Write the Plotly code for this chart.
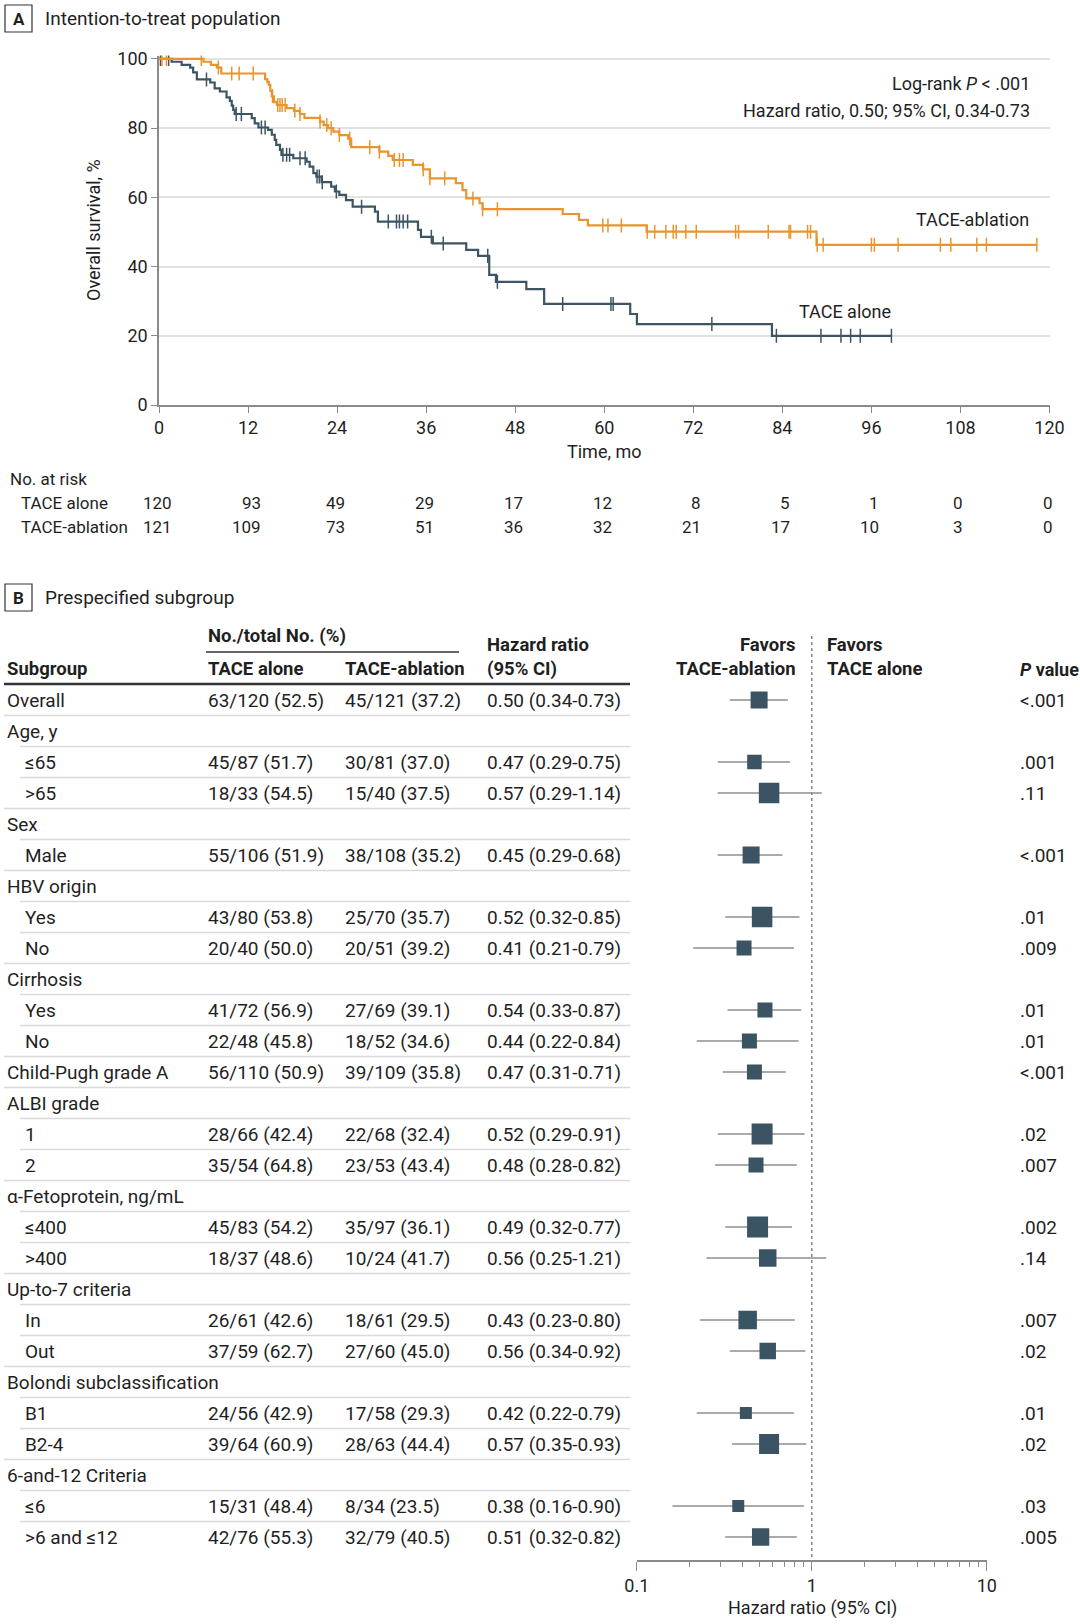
import numpy as np
import plotly.graph_objects as go

# ---- Panel A: Kaplan-Meier data (months, overall survival %) ----
alone_time = [0, 1.7, 3.05, 4.2, 4.6, 5.1, 6.9, 7.5, 8.2, 9.1, 9.55, 9.8, 10.0, 10.2,
              12.5, 12.9, 13.4, 14.7, 15.2, 15.6, 15.8, 16.3, 16.5, 18.1, 19.9, 20.3,
              20.8, 21.2, 21.9, 23.2, 23.7, 24.3, 25.2, 26.1, 29.1, 29.5, 34.9, 35.3,
              36.9, 41.4, 43.0, 44.5, 45.4, 49.5, 51.9, 63.5, 64.4, 82.6]
alone_surv = [100, 99.2, 98.3, 97.5, 96.1, 94.1, 93.2, 91.5, 90.6, 88.9, 87.9, 86.5, 85.3, 84.1,
              82.9, 81.4, 80.2, 79.5, 78.1, 76.6, 75.2, 73.7, 72.3, 71.3, 70.3, 68.9,
              67.0, 66.0, 64.4, 63.1, 61.7, 60.7, 59.2, 57.3, 55.9, 53.0, 50.6, 48.6,
              46.7, 44.8, 43.1, 37.6, 35.6, 33.5, 29.2, 26.3, 23.4, 20.0]
alone_end = 98.7
alone_censor = [0.2, 1.3, 6.4, 10.4, 11.1, 13.8, 14.3, 16.7, 17.2, 17.6, 19.0, 19.7, 21.3,
                21.6, 22.0, 23.9, 27.3, 30.9, 32.0, 32.4, 32.9, 33.5, 36.7, 38.3, 44.3,
                45.6, 54.4, 60.9, 61.2, 74.5, 83.2, 89.2, 91.9, 93.2, 94.5, 98.7]

ablation_time = [0, 6.0, 7.0, 7.8, 8.4, 14.3, 14.6, 14.8, 15.0, 15.2, 15.5, 15.9, 17.2,
                 18.2, 19.0, 19.6, 21.7, 22.2, 22.8, 23.5, 24.3, 25.5, 25.9, 29.7, 30.9,
                 31.5, 34.2, 35.6, 36.5, 40.0, 40.9, 41.4, 43.2, 43.6, 54.4, 56.6, 57.8,
                 65.7, 88.6]
ablation_surv = [100, 99.2, 98.3, 97.5, 95.8, 94.2, 93.3, 92.5, 90.8, 89.2, 87.5, 86.7, 85.8,
                 85.0, 84.1, 83.0, 81.9, 80.9, 80.0, 79.0, 78.0, 77.0, 74.5, 73.2, 72.0,
                 70.8, 69.4, 68.1, 65.5, 64.1, 62.1, 59.7, 58.3, 56.6, 55.2, 53.5, 51.9,
                 50.1, 46.3]
ablation_end = 118.3
ablation_censor = [0.4, 1.0, 5.7, 8.0, 9.8, 10.8, 12.7, 15.3, 16.0, 16.3, 16.6, 17.0, 18.3,
                   19.0, 21.7, 22.6, 23.2, 24.3, 25.7, 28.4, 29.7, 31.7, 32.4, 32.9, 35.6,
                   36.5, 38.5, 42.3, 43.6, 45.6, 59.8, 60.5, 62.3, 65.8, 66.8, 68.3, 69.3,
                   69.7, 71.0, 72.4, 77.7, 78.1, 82.1, 84.9, 85.1, 87.4, 87.8, 88.7, 89.5,
                   96.0, 96.4, 99.6, 105.3, 106.7, 110.2, 111.5, 118.3]

risk_times = [0, 12, 24, 36, 48, 60, 72, 84, 96, 108, 120]
risk_alone = [120, 93, 49, 29, 17, 12, 8, 5, 1, 0, 0]
risk_ablation = [121, 109, 73, 51, 36, 32, 21, 17, 10, 3, 0]

# ---- Panel B: subgroup forest plot ----
labels = ["Overall", "Age, y", "≤65", ">65", "Sex", "Male", "HBV origin", "Yes", "No",
          "Cirrhosis", "Yes", "No", "Child-Pugh grade A", "ALBI grade", "1", "2",
          "α-Fetoprotein, ng/mL", "≤400", ">400", "Up-to-7 criteria", "In", "Out",
          "Bolondi subclassification", "B1", "B2-4", "6-and-12 Criteria", "≤6", ">6 and ≤12"]
level = [0, 0, 1, 1, 0, 1, 0, 1, 1, 0, 1, 1, 0, 0, 1, 1, 0, 1, 1, 0, 1, 1, 0, 1, 1, 0, 1, 1]
n_alone = ["63/120 (52.5)", "", "45/87 (51.7)", "18/33 (54.5)", "", "55/106 (51.9)", "",
           "43/80 (53.8)", "20/40 (50.0)", "", "41/72 (56.9)", "22/48 (45.8)", "56/110 (50.9)",
           "", "28/66 (42.4)", "35/54 (64.8)", "", "45/83 (54.2)", "18/37 (48.6)", "",
           "26/61 (42.6)", "37/59 (62.7)", "", "24/56 (42.9)", "39/64 (60.9)", "",
           "15/31 (48.4)", "42/76 (55.3)"]
n_ablation = ["45/121 (37.2)", "", "30/81 (37.0)", "15/40 (37.5)", "", "38/108 (35.2)", "",
              "25/70 (35.7)", "20/51 (39.2)", "", "27/69 (39.1)", "18/52 (34.6)", "39/109 (35.8)",
              "", "22/68 (32.4)", "23/53 (43.4)", "", "35/97 (36.1)", "10/24 (41.7)", "",
              "18/61 (29.5)", "27/60 (45.0)", "", "17/58 (29.3)", "28/63 (44.4)", "",
              "8/34 (23.5)", "32/79 (40.5)"]
hr = [0.50, None, 0.47, 0.57, None, 0.45, None, 0.52, 0.41, None, 0.54, 0.44, 0.47, None,
      0.52, 0.48, None, 0.49, 0.56, None, 0.43, 0.56, None, 0.42, 0.57, None, 0.38, 0.51]
ci_lo = [0.34, None, 0.29, 0.29, None, 0.29, None, 0.32, 0.21, None, 0.33, 0.22, 0.31, None,
         0.29, 0.28, None, 0.32, 0.25, None, 0.23, 0.34, None, 0.22, 0.35, None, 0.16, 0.32]
ci_hi = [0.73, None, 0.75, 1.14, None, 0.68, None, 0.85, 0.79, None, 0.87, 0.84, 0.71, None,
         0.91, 0.82, None, 0.77, 1.21, None, 0.80, 0.92, None, 0.79, 0.93, None, 0.90, 0.82]
p_text = ["<.001", "", ".001", ".11", "", "<.001", "", ".01", ".009", "", ".01", ".01", "<.001",
          "", ".02", ".007", "", ".002", ".14", "", ".007", ".02", "", ".01", ".02", "",
          ".03", ".005"]
box_size = [17, None, 14.5, 20.5, None, 17, None, 20.5, 15, None, 15, 15, 15, None,
            21, 15, None, 21, 17.5, None, 18.5, 16.5, None, 12, 20, None, 12, 17.3]

W, H = 1080, 1624
FONT = "Roboto, 'Noto Sans', sans-serif"
TXT = "#1f1f1f"
ORANGE = "#e8952f"
SLATE = "#3d5563"


def fx(p):
    return p / W


def fy(p):
    return 1 - p / H


def row_of(p):  # pixel -> forest row coordinate
    return (p - 700) / 31.0


def step_value(times, surv, t):
    i = np.searchsorted(np.array(times), t, side="right") - 1
    return surv[i]


fig = go.Figure()

for times, surv, end, cens, col in [(alone_time, alone_surv, alone_end, alone_censor, SLATE),
                                    (ablation_time, ablation_surv, ablation_end, ablation_censor, ORANGE)]:
    fig.add_trace(go.Scatter(x=times + [end], y=surv + [surv[-1]], mode="lines",
                             line=dict(color=col, width=2.2, shape="hv"),
                             xaxis="x", yaxis="y", hoverinfo="skip"))
    fig.add_trace(go.Scatter(x=cens, y=[step_value(times, surv, c) for c in cens],
                             mode="markers",
                             marker=dict(symbol="line-ns", size=10,
                                         line=dict(color=col, width=1.5)),
                             xaxis="x", yaxis="y", hoverinfo="skip"))

# forest plot: CI lines first, then boxes on top
rows = [i for i, v in enumerate(hr) if v is not None]
ci_x, ci_y = [], []
for i in rows:
    ci_x += [ci_lo[i], ci_hi[i], None]
    ci_y += [i, i, None]
fig.add_trace(go.Scatter(x=ci_x, y=ci_y, mode="lines", line=dict(color="#8e8e8e", width=1.6),
                         xaxis="x2", yaxis="y2", hoverinfo="skip"))
fig.add_trace(go.Scatter(
    x=[hr[i] for i in rows], y=rows, mode="markers",
    marker=dict(symbol="square", size=[box_size[i] for i in rows], color="#3b5463",
                opacity=1, line=dict(width=0)),
    xaxis="x2", yaxis="y2", hoverinfo="skip"))

ann = []
shapes = []


def text(x, y, s, xref="paper", yref="paper", anchor="left", size=19, **kw):
    ann.append(dict(x=x, y=y, xref=xref, yref=yref, text=s, showarrow=False,
                    xanchor=anchor, yanchor="middle",
                    font=dict(family=FONT, size=size, color=TXT), **kw))


# panel labels
for top, letter, title in [(5, "A", "Intention-to-treat population"),
                           (584, "B", "Prespecified subgroup")]:
    shapes.append(dict(type="rect", xref="paper", yref="paper", x0=fx(5), x1=fx(32),
                       y0=fy(top), y1=fy(top + 27), line=dict(color="#333", width=1.2)))
    text(fx(18.5), fy(top + 13.5), "<b>" + letter + "</b>", anchor="center", size=17)
    text(fx(43), fy(top + 13.5), title, size=19)

# panel A texts
text(fx(1032), fy(84), "Log-rank <i>P</i> < .001", anchor="right", size=18)
text(fx(1032), fy(110), "Hazard ratio, 0.50; 95% CI, 0.34-0.73", anchor="right", size=18)
text(fx(1031), fy(219.5), "TACE-ablation", anchor="right", size=18)
text(fx(892.6), fy(311.5), "TACE alone", anchor="right", size=18)
text(fx(604), fy(451.5), "Time, mo", anchor="center", size=18)
text(fx(93), fy(230), "Overall survival, %", anchor="center", size=18, textangle=-90)

# number at risk
text(fx(8), fy(479.4), "No. at risk", size=17)
text(fx(19), fy(503.3), "TACE alone", size=17)
text(fx(19), fy(527), "TACE-ablation", size=17)
digit_w = 10.0
for t, a, b in zip(risk_times, risk_alone, risk_ablation):
    shift = max(len(str(a)), len(str(b))) * digit_w / 2
    for val, ypx in [(a, 503.3), (b, 527)]:
        text(t, fy(ypx), str(val), xref="x", anchor="right", size=17, xshift=shift)

# panel B header
text(fx(5), row_of(669), "<b>Subgroup</b>", yref="y2", size=18.5)
text(fx(206), row_of(636), "<b>No./total No. (%)</b>", yref="y2", size=18.5)
text(fx(206), row_of(669), "<b>TACE alone</b>", yref="y2", size=18.5)
text(fx(343), row_of(669), "<b>TACE-ablation</b>", yref="y2", size=18.5)
text(fx(485), row_of(645), "<b>Hazard ratio</b>", yref="y2", size=18.5)
text(fx(485), row_of(669), "<b>(95% CI)</b>", yref="y2", size=18.5)
text(fx(798), row_of(645), "<b>Favors</b>", yref="y2", anchor="right", size=18.5)
text(fx(798), row_of(669), "<b>TACE-ablation</b>", yref="y2", anchor="right", size=18.5)
text(fx(825), row_of(645), "<b>Favors</b>", yref="y2", size=18.5)
text(fx(825), row_of(669), "<b>TACE alone</b>", yref="y2", size=18.5)
text(fx(1018), row_of(669), "<b><i>P</i> value</b>", yref="y2", size=18)

shapes.append(dict(type="line", xref="paper", yref="y2", x0=fx(206), x1=fx(459),
                   y0=row_of(652), y1=row_of(652), line=dict(color="#333", width=1.6)))
shapes.append(dict(type="line", xref="paper", yref="y2", x0=fx(4), x1=fx(630),
                   y0=row_of(684), y1=row_of(684), line=dict(color="#333", width=2.6)))

for i, lab in enumerate(labels):
    text(fx(23 if level[i] else 5), i, lab, yref="y2")
    if n_alone[i]:
        text(fx(206), i, n_alone[i], yref="y2")
        text(fx(343), i, n_ablation[i], yref="y2")
        text(fx(485), i, "%.2f (%.2f-%.2f)" % (hr[i], ci_lo[i], ci_hi[i]), yref="y2")
        text(fx(1018), i, p_text[i], yref="y2")
    if i < len(labels) - 1:
        x0 = fx(20) if level[i + 1] else fx(4)
        shapes.append(dict(type="line", xref="paper", yref="y2", x0=x0, x1=fx(630),
                           y0=i + 0.5, y1=i + 0.5, line=dict(color="#d9d9d9", width=1.6)))

# null line at HR = 1
shapes.append(dict(type="line", xref="x2", yref="y2", x0=1, x1=1, y0=row_of(636),
                   y1=row_of(1560), line=dict(color="#666", width=1.2, dash="dot"),
                   layer="below"))
text(fx(812), fy(1608), "Hazard ratio (95% CI)", anchor="center", size=18)

axis_common = dict(showgrid=False, zeroline=False, showline=True, linecolor="#8a8a8a",
                   linewidth=1.5, ticks="outside", tickcolor="#8a8a8a", automargin=False,
                   tickfont=dict(family=FONT, size=18, color=TXT))

fig.update_layout(
    template="none", autosize=False,
    width=W, height=H, margin=dict(l=0, r=0, t=0, b=0, pad=0, autoexpand=False),
    paper_bgcolor="white", plot_bgcolor="white", showlegend=False,
    font=dict(family=FONT, color=TXT),
    xaxis=dict(domain=[fx(159), fx(1049.5)], range=[0, 120], tickvals=risk_times,
               ticklen=6, anchor="y", **axis_common),
    yaxis=dict(domain=[fy(405), fy(55.5)], range=[0, 101], tickvals=[0, 20, 40, 60, 80, 100],
               ticklen=6, anchor="x", **{**axis_common, "showgrid": True},
               gridcolor="#e2e2e2", gridwidth=1.5),
    xaxis2=dict(domain=[fx(636.8), fx(986.8)], type="log", range=[-1, 1], anchor="y2",
                tickvals=[0.1, 1, 10], ticktext=["0.1", "1", "10"], ticklen=9,
                minor=dict(tickvals=[0.2, 0.3, 0.4, 0.5, 0.6, 0.7, 0.8, 0.9,
                                     2, 3, 4, 5, 6, 7, 8, 9],
                           ticklen=5, ticks="outside", tickcolor="#8a8a8a"),
                **axis_common),
    yaxis2=dict(domain=[fy(1560), fy(610)], range=[row_of(1560), row_of(610)],
                anchor="x2", showticklabels=False, showgrid=False, zeroline=False,
                showline=False, ticks="", automargin=False),
    annotations=ann, shapes=shapes,
)

# drop the page's default body margin so the figure sits at the top-left corner
fig.write_html("out.html", config={"displayModeBar": False},
               post_script="document.body.style.margin='0';document.body.style.overflow='hidden';")
